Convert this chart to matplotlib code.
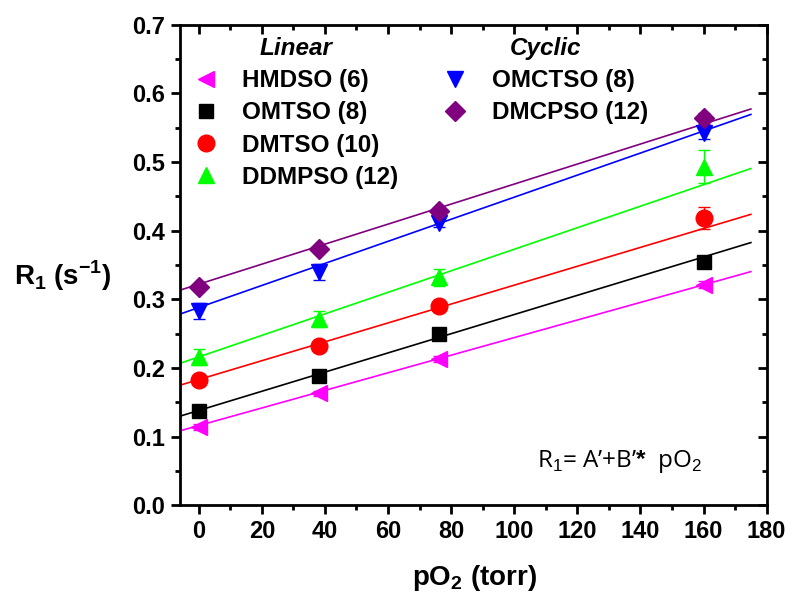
import numpy as np
import matplotlib
matplotlib.use("Agg")
import matplotlib.pyplot as plt
from matplotlib.lines import Line2D

plt.rcParams['font.family'] = ['Liberation Sans', 'DejaVu Sans']
plt.rcParams['mathtext.fontset'] = 'custom'
plt.rcParams['mathtext.rm'] = 'Liberation Sans'
plt.rcParams['mathtext.bf'] = 'Liberation Sans:bold'

# pO2 (torr)
po2 = [0, 38, 76, 160]

# R1 (s^-1) for each siloxane
names = ['HMDSO (6)', 'OMTSO (8)', 'DMTSO (10)', 'DDMPSO (12)', 'OMCTSO (8)', 'DMCPSO (12)']
hmdso = [0.114, 0.163, 0.213, 0.321]
omtso = [0.137, 0.188, 0.249, 0.354]
dmtso = [0.182, 0.232, 0.290, 0.418]
ddmpso = [0.216, 0.271, 0.332, 0.493]
omctso = [0.283, 0.340, 0.411, 0.542]
dmcpso = [0.318, 0.373, 0.429, 0.564]

# error bars
err_hmdso = [0.004, 0.004, 0.004, 0.005]
err_omtso = [0.004, 0.004, 0.004, 0.005]
err_dmtso = [0.004, 0.004, 0.004, 0.016]
err_ddmpso = [0.012, 0.012, 0.012, 0.024]
err_omctso = [0.012, 0.012, 0.006, 0.008]
err_dmcpso = [0.004, 0.004, 0.004, 0.008]

# fitted R1 = A' + B' * pO2
fit_a = [0.116, 0.138, 0.183, 0.216, 0.288, 0.322]
fit_b = [0.001282, 0.001398, 0.001376, 0.001569, 0.001608, 0.001459]

series = [hmdso, omtso, dmtso, ddmpso, omctso, dmcpso]
errors = [err_hmdso, err_omtso, err_dmtso, err_ddmpso, err_omctso, err_dmcpso]
colors = ['#FF00FF', '#000000', '#FF0000', '#00FF00', '#0000FF', '#800080']
markers = ['<', 's', 'o', '^', 'v', 'D']
msizes = [12, 10, 12, 12, 12, 10]

fig = plt.figure(figsize=(7.92, 6.05), dpi=100)
ax = fig.add_axes([0.227, 0.165, 0.741, 0.794])

x_fit = np.array([-6, 175])
for y, e, a, b, c, m, ms in zip(series, errors, fit_a, fit_b, colors, markers, msizes):
    ax.plot(x_fit, a + b * x_fit, color=c, lw=1.2, zorder=2)
    ax.errorbar(po2, y, yerr=e, fmt=m, color=c, ms=ms, mec=c, elinewidth=1,
                capsize=4, capthick=1, zorder=3)

ax.set_xlim(-6, 180)
ax.set_ylim(0, 0.7)
ax.set_xticks(np.arange(0, 181, 20))
ax.set_xticks(np.arange(0, 181, 10), minor=True)
ax.set_yticks(np.arange(0, 0.71, 0.1))
ax.set_yticks(np.arange(0, 0.71, 0.05), minor=True)
ax.set_yticklabels(['%.1f' % v for v in np.arange(0, 0.71, 0.1)])

for s in ax.spines.values():
    s.set_linewidth(2)
ax.tick_params(which='major', direction='out', length=6.5, width=2, labelsize=17, pad=4)
ax.tick_params(which='minor', direction='out', length=3.6, width=2)
for lab in ax.get_xticklabels() + ax.get_yticklabels():
    lab.set_fontweight('bold')

# mirrored ticks on top and right, pointing inward
top = ax.secondary_xaxis('top')
top.set_xticks(np.arange(0, 181, 20))
top.set_xticks(np.arange(0, 181, 10), minor=True)
top.tick_params(which='major', direction='in', length=6.5, width=2, labeltop=False)
top.tick_params(which='minor', direction='in', length=3.6, width=2)
right = ax.secondary_yaxis('right')
right.set_yticks(np.arange(0, 0.71, 0.1))
right.set_yticks(np.arange(0, 0.71, 0.05), minor=True)
right.tick_params(which='major', direction='in', length=6.5, width=2, labelright=False)
right.tick_params(which='minor', direction='in', length=3.6, width=2)

ax.set_xlabel(r'pO$_\mathbf{2}$ (torr)', fontsize=20, fontweight='bold')
ax.xaxis.set_label_coords(0.503, -0.12)
ax.set_ylabel(r'R$_\mathbf{1}$ (s$^\mathbf{-1}$)', fontsize=20, fontweight='bold',
              rotation=0, ha='center', va='center')
ax.yaxis.set_label_coords(-0.2, 0.477)

ax.text(0.608, 0.09, r"R$_1$= A’+B’$\mathbf{*}$  pO$_2$", transform=ax.transAxes,
        fontsize=17.5, family=['Open Sans', 'DejaVu Sans'], va='center', ha='left')

# legends: linear and cyclic groups
def handles(idx):
    return [Line2D([], [], ls='none', marker=markers[i], color=colors[i],
                   ms=msizes[i]) for i in idx]

leg_kw = dict(frameon=False, borderpad=0, handlelength=1.0,
              handletextpad=1.0, labelspacing=0.38,
              prop={'weight': 'bold', 'size': 17.5},
              title_fontproperties={'weight': 'bold', 'style': 'italic', 'size': 17.5})
l1 = fig.legend(handles([0, 1, 2, 3]), names[:4], title='Linear', loc='upper left',
                bbox_to_anchor=(0.229, 0.959), **leg_kw)
l2 = fig.legend(handles([4, 5]), names[4:], title='Cyclic', loc='upper left',
                bbox_to_anchor=(0.544, 0.959), **leg_kw)

fig.savefig('out.png', dpi=100)
